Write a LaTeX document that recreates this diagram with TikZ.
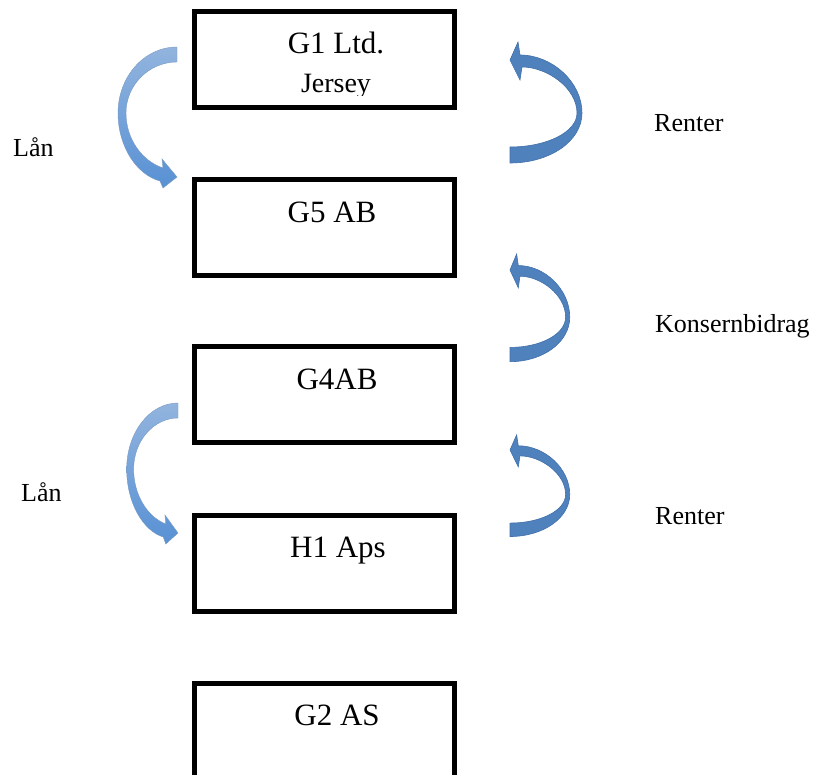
\documentclass[tikz,border=0pt]{standalone}
\usepackage{fontspec}
\setmainfont{Liberation Serif}
\definecolor{arrowblue}{RGB}{79,129,189}
\definecolor{arrowedge}{RGB}{65,112,170}
\definecolor{arrowlight}{RGB}{146,180,222}
\definecolor{arrowmid}{RGB}{88,145,212}
\tikzset{
  box/.style={draw=black, line width=5pt, minimum width=260pt, minimum height=96pt, inner sep=0pt},
  boxlabel/.style={anchor=base, inner sep=0pt, font=\fontsize{31}{31}\selectfont},
  sidelabel/.style={anchor=base west, inner sep=0pt, font=\fontsize{26}{26}\selectfont},
  rarrow/.pic={
    \path[fill=arrowblue, draw=arrowedge, line width=0.6pt]
      (0,0) -- (8,-18) -- (10,-5)
      .. controls (42,-5) and (72,22) .. (72,53)
      .. controls (72,81) and (40,103) .. (0,103)
      -- (0,87)
      .. controls (37,87) and (67,72) .. (67,53)
      .. controls (67,28) and (37,7) .. (12,7)
      -- (10,20) -- cycle;
  },
  larrow/.pic={
    \path[top color=arrowlight, bottom color=arrowmid, draw=arrowedge!70, line width=0.4pt]
      (0,0) .. controls (-33,0) and (-59,30) .. (-59,66)
      .. controls (-59,100) and (-40,128) .. (-17,134)
      -- (-14,141) -- (0,130) -- (-15,112) -- (-14,121)
      .. controls (-35,114) and (-51,92) .. (-51,66)
      .. controls (-51,38) and (-28,15) .. (0,15) -- cycle;
  }
}
\begin{document}
\begin{tikzpicture}[x=1pt, y=-1pt]
\useasboundingbox (0,0) rectangle (815,775);
% boxes
\node[box] (g1) at (324,60) {};
\node[box] (g5) at (324,228) {};
\node[box] (g4) at (324,395) {};
\node[box] (h1) at (324,564) {};
\node[box] (g2) at (324,732) {};
% box labels
\node[boxlabel] (g1t) at (336,54) {G1 Ltd.};
\begin{scope}
\clip (196,15) rectangle (452,96);
\node[boxlabel, font=\fontsize{28}{28}\selectfont] (g1j) at (336,93) {Jersey};
\end{scope}
\node[boxlabel] (g5t) at (332,223) {G5 AB};
\node[boxlabel] (g4t) at (337,390) {G4AB};
\node[boxlabel] (h1t) at (338,558) {H1 Aps};
\node[boxlabel] (g2t) at (337,725) {G2 AS};
% side labels
\node[sidelabel] (lan1) at (13,157) {Lån};
\node[sidelabel] (lan2) at (21,502) {Lån};
\node[sidelabel] (ren1) at (654,132) {Renter};
\node[sidelabel] (kon) at (655,333) {Konsernbidrag};
\node[sidelabel] (ren2) at (655,525) {Renter};
% curved arrows
\pic at (177,47) {larrow};
\pic[xscale=0.87] at (178,403) {larrow};
\pic at (510,60) {rarrow};
\pic[xscale=0.83, yscale=0.89] at (510,270) {rarrow};
\pic[xscale=0.83, yscale=0.84] at (510,450) {rarrow};
\end{tikzpicture}
\end{document}
